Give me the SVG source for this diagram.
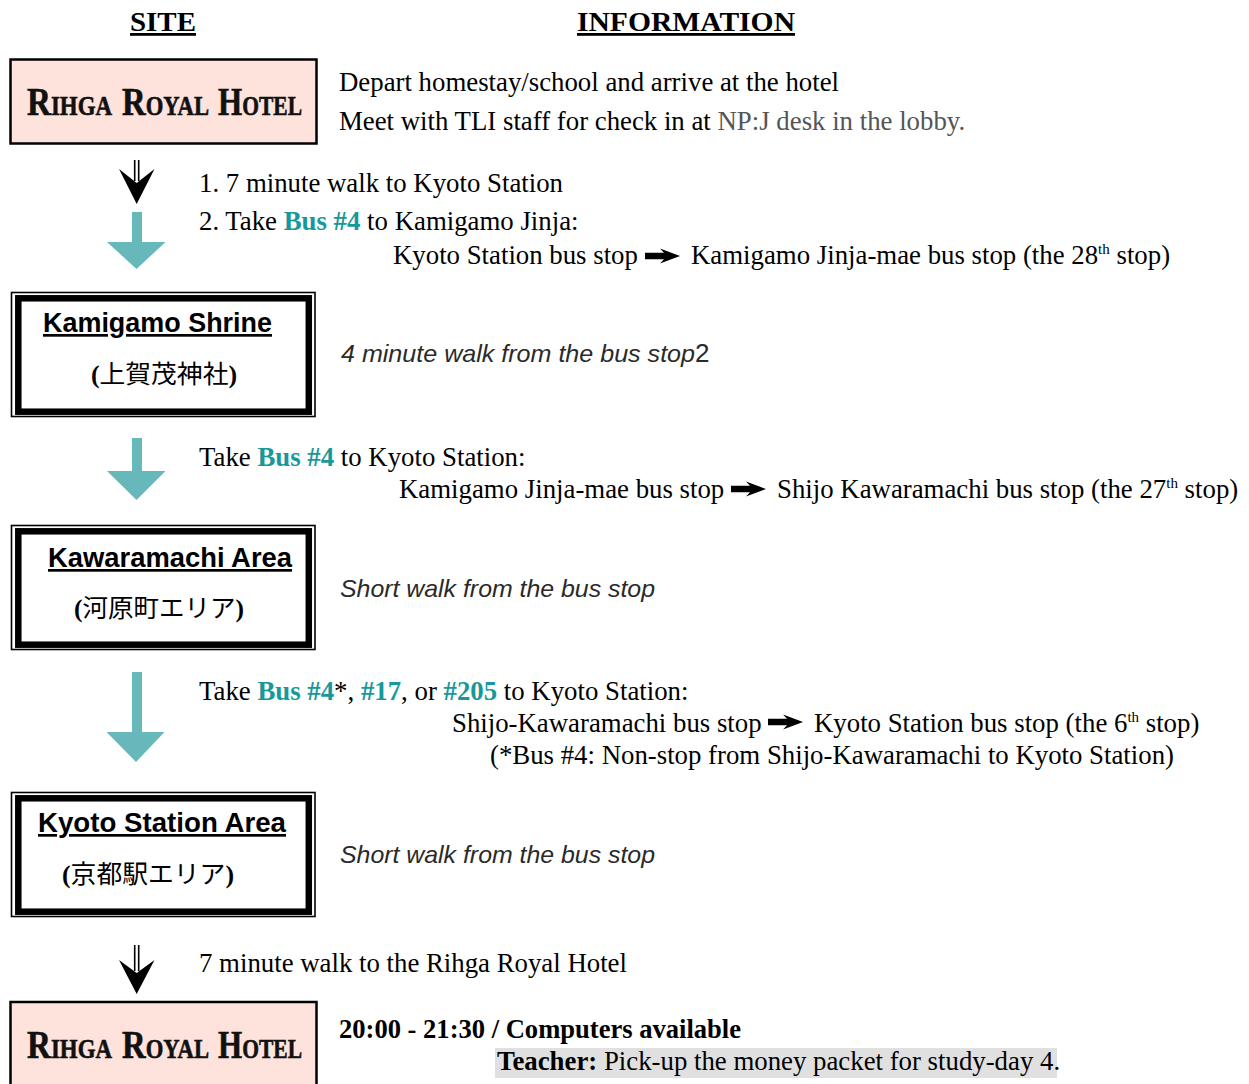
<svg xmlns="http://www.w3.org/2000/svg" width="1249" height="1084" viewBox="0 0 1249 1084">
<style>
.s{font-family:"Liberation Serif","Times New Roman",serif;font-size:26.8px;fill:#000}
.b{font-weight:bold}
.t{fill:#17999a;font-weight:bold}
.g{fill:#555}
.sup{font-size:15px}
.hd{font-family:"Liberation Serif","Times New Roman",serif;font-size:28px;font-weight:bold;text-decoration:underline}
.hotel{font-family:"Liberation Serif","Times New Roman",serif;font-size:39px;font-weight:bold;font-variant:small-caps;fill:#111;stroke:#111;stroke-width:0.6}
.site{font-family:"Liberation Sans",Arial,sans-serif;font-size:27px;font-weight:bold;text-decoration:underline}
.jp{font-family:"Liberation Serif","Noto Sans CJK JP",serif;font-size:25px;font-weight:bold}
.jpk{font-family:"Noto Sans CJK JP",sans-serif;font-weight:normal}
.it{font-family:"Liberation Sans",Arial,sans-serif;font-size:24px;font-style:italic;fill:#2a2a2a}
.pink{fill:#fde3dc;stroke:#000;stroke-width:2.5}
.thin{fill:#fff;stroke:#000;stroke-width:1.6}
.thick{fill:none;stroke:#000;stroke-width:6.5}
.teal{fill:#66b8ba}
.blk{fill:#000}
.dl{stroke:#000;stroke-width:1.6}
</style>
<defs>
<path id="ia" d="M0,-3.2 L19,-3.2 L15,-7.5 L35,0 L15,7.5 L19,3.2 L0,3.2 Z"/>
</defs>

<text class="hd" x="130" y="31" textLength="66" lengthAdjust="spacingAndGlyphs">SITE</text>
<text class="hd" x="577" y="31" textLength="218" lengthAdjust="spacingAndGlyphs">INFORMATION</text>

<g id="hotel1">
<rect class="pink" x="10.5" y="59.5" width="306" height="84"/>
<text class="hotel" x="27" y="115" textLength="85" lengthAdjust="spacingAndGlyphs">Rihga</text>
<text class="hotel" x="122" y="115" textLength="87" lengthAdjust="spacingAndGlyphs">Royal</text>
<text class="hotel" x="218" y="115" textLength="84" lengthAdjust="spacingAndGlyphs">Hotel</text>
</g>

<g id="kamigamo">
<rect class="thin" x="11.5" y="292.5" width="303.5" height="124"/>
<rect class="thick" x="18.3" y="298.3" width="290.5" height="113.4"/>
<text class="site" x="43" y="332" textLength="229" lengthAdjust="spacingAndGlyphs">Kamigamo Shrine</text>
<text class="jp" x="91" y="383" textLength="146" lengthAdjust="spacingAndGlyphs">(<tspan class="jpk">上賀茂神社</tspan>)</text>
</g>

<g id="kawaramachi">
<rect class="thin" x="11.5" y="525.5" width="303.5" height="124"/>
<rect class="thick" x="18.3" y="531.3" width="290.5" height="113.4"/>
<text class="site" x="48" y="567" textLength="244" lengthAdjust="spacingAndGlyphs">Kawaramachi Area</text>
<text class="jp" x="74" y="617" textLength="170" lengthAdjust="spacingAndGlyphs">(<tspan class="jpk">河原町エリア</tspan>)</text>
</g>

<g id="kyoto">
<rect class="thin" x="11.5" y="792.5" width="303.5" height="124"/>
<rect class="thick" x="18.3" y="798.3" width="290.5" height="113.4"/>
<text class="site" x="38" y="832" textLength="248" lengthAdjust="spacingAndGlyphs">Kyoto Station Area</text>
<text class="jp" x="62" y="883" textLength="172" lengthAdjust="spacingAndGlyphs">(<tspan class="jpk">京都駅エリア</tspan>)</text>
</g>

<g id="hotel2">
<rect class="pink" x="10.5" y="1002" width="306" height="100"/>
<text class="hotel" x="27" y="1058" textLength="85" lengthAdjust="spacingAndGlyphs">Rihga</text>
<text class="hotel" x="122" y="1058" textLength="87" lengthAdjust="spacingAndGlyphs">Royal</text>
<text class="hotel" x="218" y="1058" textLength="84" lengthAdjust="spacingAndGlyphs">Hotel</text>
</g>

<g id="connectors">
<line class="dl" x1="134.7" y1="160" x2="134.7" y2="181"/>
<line class="dl" x1="138.7" y1="160" x2="138.7" y2="181"/>
<path class="blk" d="M119,169 L136.7,183 L154.5,169 L136.7,204 Z"/>
<path class="teal" d="M132,212 H142 V242 H165.5 L136.5,269 L107,242 H132 Z"/>
<path class="teal" d="M132,438 H142 V471 H165.5 L136.5,500 L107,471 H132 Z"/>
<path class="teal" d="M132,672 H142 V732 H164.5 L136,762 L106.5,732 H132 Z"/>
<line class="dl" x1="134.7" y1="945" x2="134.7" y2="971"/>
<line class="dl" x1="138.7" y1="945" x2="138.7" y2="971"/>
<path class="blk" d="M119,960 L136.7,973 L154.5,960 L136.7,994 Z"/>
</g>

<g id="info">
<text class="s" x="339" y="91">Depart homestay/school and arrive at the hotel</text>
<text class="s" x="339" y="130">Meet with TLI staff for check in at <tspan class="g">NP:J desk in the lobby.</tspan></text>

<text class="s" x="199" y="192">1. 7 minute walk to Kyoto Station</text>
<text class="s" x="199" y="230">2. Take <tspan class="t">Bus #4</tspan> to Kamigamo Jinja:</text>
<text class="s" x="393" y="264">Kyoto Station bus stop</text>
<use href="#ia" x="645" y="256"/>
<text class="s" x="691" y="264">Kamigamo Jinja-mae bus stop (the 28<tspan class="sup" dy="-10">th</tspan><tspan dy="10"> stop)</tspan></text>

<text class="it" x="341" y="362"><tspan textLength="354" lengthAdjust="spacingAndGlyphs">4 minute walk from the bus stop</tspan><tspan font-style="normal" font-size="26">2</tspan></text>

<text class="s" x="199" y="466">Take <tspan class="t">Bus #4</tspan> to Kyoto Station:</text>
<text class="s" x="399" y="498">Kamigamo Jinja-mae bus stop</text>
<use href="#ia" x="731" y="489"/>
<text class="s" x="777" y="498">Shijo Kawaramachi bus stop (the 27<tspan class="sup" dy="-10">th</tspan><tspan dy="10"> stop)</tspan></text>

<text class="it" x="340" y="597" textLength="315" lengthAdjust="spacingAndGlyphs">Short walk from the bus stop</text>

<text class="s" x="199" y="700">Take <tspan class="t">Bus #4</tspan>*, <tspan class="t">#17</tspan>, or <tspan class="t">#205</tspan> to Kyoto Station:</text>
<text class="s" x="452" y="732">Shijo-Kawaramachi bus stop</text>
<use href="#ia" x="768" y="722"/>
<text class="s" x="814" y="732">Kyoto Station bus stop (the 6<tspan class="sup" dy="-10">th</tspan><tspan dy="10"> stop)</tspan></text>
<text class="s" x="490" y="764">(*Bus #4: Non-stop from Shijo-Kawaramachi to Kyoto Station)</text>

<text class="it" x="340" y="863" textLength="315" lengthAdjust="spacingAndGlyphs">Short walk from the bus stop</text>

<text class="s" x="199" y="972">7 minute walk to the Rihga Royal Hotel</text>

<text class="s b" x="339" y="1038" textLength="402" lengthAdjust="spacingAndGlyphs">20:00 - 21:30 / Computers available</text>
<rect x="495" y="1048" width="562" height="30" fill="#e0e0e0"/>
<text class="s" x="497" y="1070"><tspan class="b">Teacher:</tspan> Pick-up the money packet for study-day 4.</text>
</g>
</svg>
